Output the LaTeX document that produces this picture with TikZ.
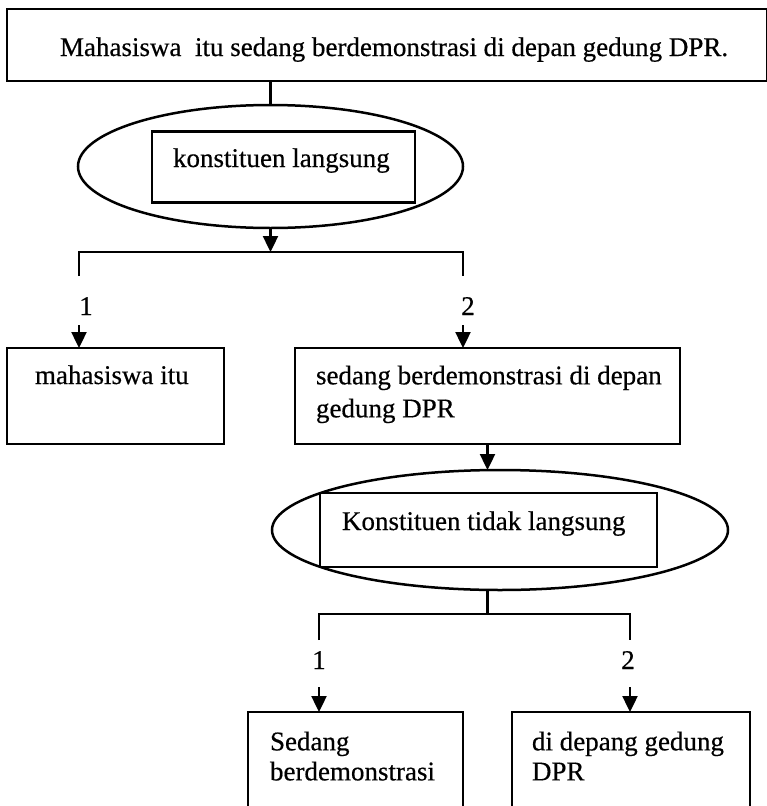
\documentclass[tikz,border=0pt]{standalone}
\usepackage{fontspec}
\setmainfont[FakeBold=0.5]{Liberation Serif}
\usetikzlibrary{arrows.meta,shapes.geometric,calc}
\begin{document}
\begin{tikzpicture}[x=1pt,y=-1pt,
  every node/.style={inner sep=0pt, outer sep=0pt},
  box/.style={draw, line width=2.8pt, rectangle, anchor=north west},
  inbox/.style={box, line width=2.4pt},
  oval/.style={draw, line width=2.5pt, ellipse},
  txt/.style={font=\fontsize{27}{31}\selectfont, anchor=north west, align=left},
  txtA/.style={txt, font=\fontsize{27}{33}\selectfont},
  txtB/.style={txt, font=\fontsize{27}{30}\selectfont},
  one/.style={font=\fontsize{27}{31}\selectfont, anchor=base west},
  num/.style={font=\fontsize{27}{31}\selectfont, anchor=base},
  ln/.style={line width=2.4pt},
  arr/.style={line width=2.4pt, -{Triangle[width=15pt,length=16pt]}}
]
\useasboundingbox (0,0) rectangle (766,806);

% top sentence
\node[box, minimum width=760pt, minimum height=72pt] (T) at (7,9) {};
\node[one] (Tt) at (60,56) {Mahasiswa\ \ itu sedang berdemonstrasi di depan gedung DPR.};

% first ellipse
\node[oval, minimum width=385pt, minimum height=123pt] (E1) at (270.5,166.5) {};
\node[inbox, minimum width=263pt, minimum height=71pt] (R1) at (152,131.5) {};
\node[one] (R1t) at (173,167) {konstituen langsung};
\draw[ln] (T.south -| E1.north) -- (E1.north);

% first bracket
\coordinate (K1) at (270.5,252);
\coordinate (K1l) at (79,276);
\coordinate (K1r) at (463,276);
\draw[arr] (E1.south) -- (K1);
\draw[ln] (K1l) |- (K1) -| (K1r);
\node[num] (n1) at (86,315) {1};
\node[num] (n2) at (468,315) {2};

% boxes A and B
\node[box, minimum width=217pt, minimum height=96pt] (A) at (7,348) {};
\node[one] (At) at (35,384) {mahasiswa itu};
\node[box, minimum width=385pt, minimum height=96pt] (B) at (295,348) {};
\node[txtA] (Bt) at (316,365.6) {sedang berdemonstrasi di depan\\gedung DPR};
\coordinate (a1) at (79,325);
\coordinate (a2) at (463,325);
\draw[arr] (a1) -- (a1 |- A.north);
\draw[arr] (a2) -- (a2 |- B.north);

% second ellipse
\node[oval, minimum width=456pt, minimum height=120pt] (E2) at (500,530) {};
\node[inbox, minimum width=337pt, minimum height=74pt] (R2) at (320,493) {};
\node[one] (R2t) at (342,530) {Konstituen tidak langsung};
\draw[arr] (B.south) -- (B.south |- E2.north);

% second bracket
\coordinate (K2) at (487.5,614);
\coordinate (K2l) at (319,640);
\coordinate (K2r) at (630,640);
\draw[ln] (B.south |- E2.south) -- (K2);
\draw[ln] (K2l) |- (K2) -| (K2r);
\node[num] (n3) at (319,669) {1};
\node[num] (n4) at (628,669) {2};

% boxes C and D
\node[box, minimum width=215pt, minimum height=110pt] (C) at (248,712) {};
\node[txtB] (Ct) at (270,731.6) {Sedang\\berdemonstrasi};
\node[box, minimum width=238pt, minimum height=110pt] (D) at (512,712) {};
\node[txtB] (Dt) at (532,731.6) {di depang gedung\\DPR};
\coordinate (a3) at (319,687);
\coordinate (a4) at (630,687);
\draw[arr] (a3) -- (a3 |- C.north);
\draw[arr] (a4) -- (a4 |- D.north);
\end{tikzpicture}
\end{document}
